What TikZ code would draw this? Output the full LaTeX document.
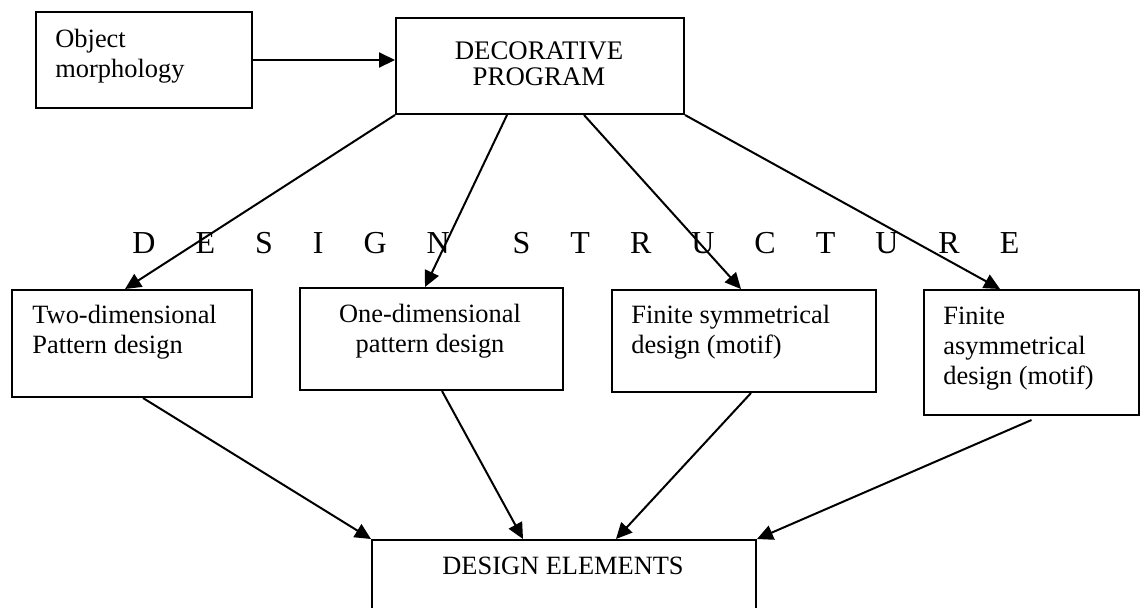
\documentclass[tikz,border=0pt]{standalone}
\usepackage{fontspec}
\setmainfont{Liberation Serif}
\usetikzlibrary{arrows.meta}
\tikzset{
  box/.style={draw, line width=1pt, rectangle, inner sep=0pt, anchor=north west},
  lbl/.style={inner sep=0pt, font=\fontsize{13.2pt}{15pt}\selectfont},
  conn/.style={line width=1pt, -{Triangle[length=8pt,width=7.5pt]}},
}
\newcommand\lsp{\hspace{20pt}}
\begin{document}
\begin{tikzpicture}[x=0.5pt,y=-0.5pt]
\useasboundingbox (0,0) rectangle (1140,607);
\clip (0,0) rectangle (1140,607);
\fill[white] (0,0) rectangle (1140,607);
% boxes
\node[box, minimum width=108pt, minimum height=48pt] (obj) at (35,11) {};
\node[box, minimum width=144pt, minimum height=48pt] (deco) at (395,17) {};
\node[box, minimum width=120pt, minimum height=53.5pt] (two) at (11,289) {};
\node[box, minimum width=131.5pt, minimum height=51pt] (one) at (299,287) {};
\node[box, minimum width=132pt, minimum height=51pt] (sym) at (611,289) {};
\node[box, minimum width=107.5pt, minimum height=62.5pt] (asym) at (923,289) {};
\node[box, minimum width=192pt, minimum height=40pt] (elem) at (371,539) {};
% texts
\node[lbl, anchor=base west] (objt) at (55,47) {\begin{tabular}[t]{@{}l@{}}Object\\morphology\end{tabular}};
\node[lbl, anchor=base, font=\fontsize{13.4pt}{13pt}\selectfont] (decot) at (539,59) {\begin{tabular}[t]{@{}c@{}}DECORATIVE\\PROGRAM\end{tabular}};
\node[lbl, anchor=base west] (twot) at (32,323) {\begin{tabular}[t]{@{}l@{}}Two-dimensional\\Pattern design\end{tabular}};
\node[lbl, anchor=base] (onet) at (430,322) {\begin{tabular}[t]{@{}c@{}}One-dimensional\\pattern design\end{tabular}};
\node[lbl, anchor=base west] (symt) at (631,323) {\begin{tabular}[t]{@{}l@{}}Finite symmetrical\\design (motif)\end{tabular}};
\node[lbl, anchor=base west] (asymt) at (943,324) {\begin{tabular}[t]{@{}l@{}}Finite\\asymmetrical\\design (motif)\end{tabular}};
\node[lbl, anchor=base] (elemt) at (563,574) {DESIGN ELEMENTS};
\node[inner sep=0pt, anchor=base west, font=\fontsize{16pt}{18pt}\selectfont] (struct) at (132,253)
  {D\lsp E\lsp S\lsp I\lsp G\lsp N\hspace{31.5pt}S\lsp T\lsp R\lsp U\lsp C\lsp T\lsp U\lsp R\lsp E};
% connectors
\draw[conn] (obj.east) -- (obj.east -| deco.west);
\draw[conn] (deco.south west) -- ([xshift=57pt]two.north west);
\draw[conn] ([xshift=56pt]deco.south west) -- ([xshift=63pt]one.north west);
\draw[conn] ([xshift=94.5pt]deco.south west) -- ([xshift=65pt]sym.north west);
\draw[conn] (deco.south east) -- ([xshift=38.5pt]asym.north west);
\draw[conn] ([xshift=66pt]two.south west) -- (elem.north west);
\draw[conn] ([xshift=71.5pt]one.south west) -- ([xshift=76pt]elem.north west);
\draw[conn] ([xshift=70pt]sym.south west) -- ([xshift=122.5pt]elem.north west);
\draw[conn] ([yshift=-2pt]asym.south) -- (elem.north east);
\end{tikzpicture}
\end{document}
